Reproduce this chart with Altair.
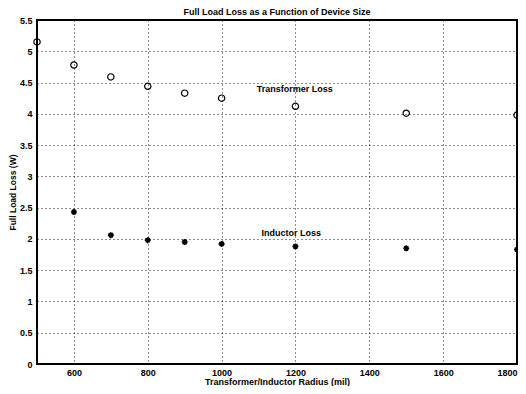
import altair as alt
import pandas as pd

radius_t = [500, 600, 700, 800, 900, 1000, 1200, 1500, 1800]
loss_t = [5.15, 4.78, 4.59, 4.44, 4.33, 4.25, 4.12, 4.01, 3.98]
radius_i = [600, 700, 800, 900, 1000, 1200, 1500, 1800]
loss_i = [2.43, 2.06, 1.98, 1.95, 1.92, 1.88, 1.85, 1.83]

labels = ["Transformer Loss", "Inductor Loss"]
label_x = [1095, 1108]
label_y = [4.31, 2.02]

title_text = ["Full Load Loss as a Function of Device Size"]

x_ticks = [600, 800, 1000, 1200, 1400, 1600, 1800]
y_ticks = [0, 0.5, 1, 1.5, 2, 2.5, 3, 3.5, 4, 4.5, 5, 5.5]

FONT = "Liberation Sans"

df_t = pd.DataFrame({"r": radius_t, "loss": loss_t})
df_i = pd.DataFrame({"r": radius_i, "loss": loss_i})
df_l = pd.DataFrame({"r": label_x, "loss": label_y, "text": labels})
df_title = pd.DataFrame({"text": title_text})

xs = alt.Scale(domain=[500, 1800], nice=False, zero=False)
ys = alt.Scale(domain=[0, 5.5], nice=False)

x_axis = alt.Axis(values=x_ticks, title="Transformer/Inductor Radius (mil)",
                  grid=True, gridDash=[1, 3], gridColor="black", gridOpacity=0.9,
                  domain=False, ticks=False, labelPadding=4, labelOverlap=False,
                  labelAlign={"expr": "datum.value >= 1800 ? 'right' : 'center'"},
                  labelFont=FONT, labelFontWeight="bold", labelFontSize=9, labelColor="black",
                  titleFont=FONT, titleFontWeight="bold", titleFontSize=9, titleColor="black",
                  titlePadding=0, labelFlush=False, format="d")
y_axis = alt.Axis(values=y_ticks, title="Full Load Loss (W)",
                  grid=True, gridDash=[1, 3], gridColor="black", gridOpacity=0.9,
                  domain=False, ticks=False, labelPadding=5, labelOverlap=False,
                  labelFont=FONT, labelFontWeight="bold", labelFontSize=9, labelColor="black",
                  titleFont=FONT, titleFontWeight="bold", titleFontSize=8.5, titleColor="black",
                  titlePadding=2, labelFlush=False, format="~g")

X = alt.X("r:Q", scale=xs, axis=x_axis)
Y = alt.Y("loss:Q", scale=ys, axis=y_axis)

circles = alt.Chart(df_t).mark_point(shape="circle", size=40, filled=False,
                                      color="black", strokeWidth=1.2, opacity=1,
                                      clip=False).encode(x=X, y=Y)

star_path = "M0,-1L0,1M-1,0L1,0M-0.7,-0.7L0.7,0.7M-0.7,0.7L0.7,-0.7"
stars = alt.Chart(df_i).mark_point(shape=star_path, size=36, filled=False,
                                    color="black", strokeWidth=1.6, opacity=1,
                                    clip=False).encode(x=X, y=Y)

texts = alt.Chart(df_l).mark_text(align="left", baseline="bottom", font=FONT,
                                   fontWeight="bold", fontSize=9, color="black").encode(
    x=X, y=Y, text="text:N")

title = alt.Chart(df_title).mark_text(align="center", baseline="bottom", font=FONT,
                                       fontWeight="bold", fontSize=9, color="black").encode(
    x=alt.value(240), y=alt.value(-3), text="text:N")

frame = alt.Chart(df_t).mark_rect(fill=None, stroke="black", strokeWidth=1.3).encode(
    x=alt.value(0), x2=alt.value(480), y=alt.value(0), y2=alt.value(344))

chart = alt.layer(circles, stars, texts, title, frame).properties(
    width=480, height=344,
    autosize=alt.AutoSizeParams(type="none"),
    padding={"left": 29, "top": 12, "right": 1, "bottom": 22},
).configure_view(stroke=None).configure(background="white")

chart.save("out.html", embed_options={"renderer": "svg", "actions": False})
